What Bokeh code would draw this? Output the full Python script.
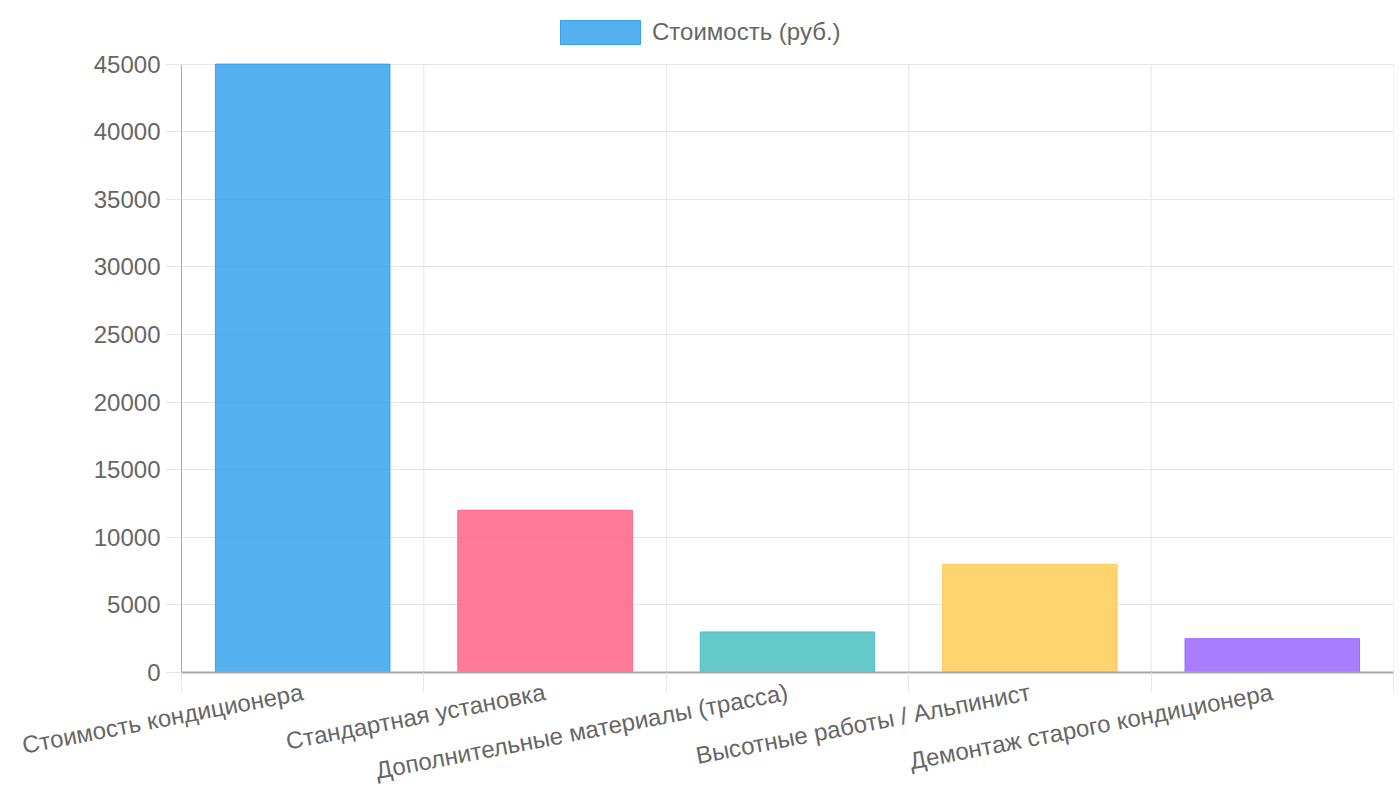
from bokeh.plotting import figure
from bokeh.models import ColumnDataSource, FixedTicker, Legend, LegendItem, Range1d
from bokeh.embed import file_html
from bokeh.resources import INLINE

# данные
categories = [
    "Стоимость кондиционера",
    "Стандартная установка",
    "Дополнительные материалы (трасса)",
    "Высотные работы / Альпинист",
    "Демонтаж старого кондиционера",
]
costs = [45000, 12000, 3000, 8000, 2500]
bar_colors = ["#36a2eb", "#ff6384", "#4bc0c0", "#ffcd56", "#9966ff"]
series_name = "Стоимость (руб.)"
y_ticks = [0, 5000, 10000, 15000, 20000, 25000, 30000, 35000, 40000, 45000]
y_max = 45000

FONT = "Liberation Sans"
TEXT = "#666666"
GRID = "#e5e5e5"
AXIS = "#a8a8a8"

centers = [i + 0.5 for i in range(len(categories))]
bounds = [i for i in range(len(categories) + 1)]

source = ColumnDataSource(data=dict(x=centers, top=costs, color=bar_colors, name=categories))

# рамка доходит до верха холста, над 45000 остаётся место для легенды
p = figure(width=1400, height=800, output_backend="svg", toolbar_location=None,
           x_range=Range1d(0, len(categories)), y_range=Range1d(0, 49706),
           min_border_left=181, min_border_right=7, min_border_top=0, min_border_bottom=0)
p.outline_line_color = None

# вертикальная сетка между категориями, только до 45000
p.segment(x0=bounds, y0=[0] * len(bounds), x1=bounds, y1=[y_max] * len(bounds),
          line_color=GRID, line_width=1)

r = p.vbar(x="x", top="top", width=0.72, source=source,
           fill_color="color", fill_alpha=0.85, line_color="color", line_width=1)

# ось X
p.xaxis.ticker = FixedTicker(ticks=centers, minor_ticks=bounds)
p.xaxis.major_label_overrides = {c: n for c, n in zip(centers, categories)}
p.xaxis.major_tick_line_color = None
p.xaxis.major_tick_in = 0
p.xaxis.major_tick_out = 0
p.xaxis.minor_tick_line_color = GRID
p.xaxis.minor_tick_in = 0
p.xaxis.minor_tick_out = 19
p.xaxis.axis_line_color = AXIS
p.xaxis.axis_line_width = 2
p.xaxis.major_label_orientation = 0.19
p.xaxis.major_label_standoff = 0
p.xaxis.major_label_text_font = FONT
p.xaxis.major_label_text_font_size = "24px"
p.xaxis.major_label_text_color = TEXT

# ось Y
p.yaxis.ticker = FixedTicker(ticks=y_ticks)
p.yaxis.bounds = (0, y_max)
p.yaxis.minor_tick_line_color = None
p.yaxis.major_tick_line_color = GRID
p.yaxis.major_tick_in = 0
p.yaxis.major_tick_out = 16
p.yaxis.axis_line_color = AXIS
p.yaxis.axis_line_width = 1
p.yaxis.major_label_standoff = 5
p.yaxis.major_label_text_font = FONT
p.yaxis.major_label_text_font_size = "24px"
p.yaxis.major_label_text_color = TEXT

p.xgrid.grid_line_color = None
p.ygrid.grid_line_color = GRID

# легенда: label_width расширяет блок вправо, чтобы образец встал левее центра рамки
legend = Legend(items=[LegendItem(label=series_name, renderers=[r], index=0)],
                location="top_center", orientation="horizontal",
                glyph_width=100, glyph_height=30, label_height=30, label_width=372,
                label_standoff=2, padding=0, margin=17, border_line_color=None,
                background_fill_alpha=0,
                label_text_font=FONT, label_text_font_size="24px", label_text_color=TEXT)
p.add_layout(legend, "center")

open("out.html", "w").write(file_html(p, INLINE))
